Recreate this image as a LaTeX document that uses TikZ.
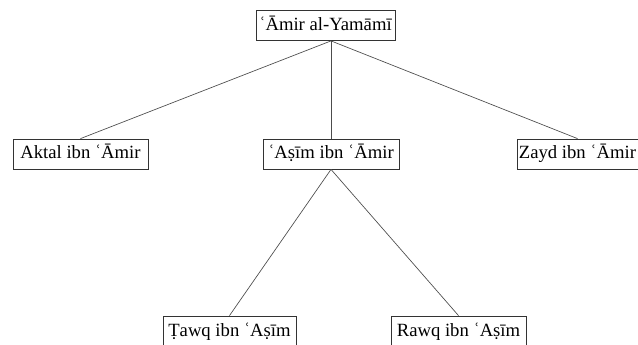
\documentclass[tikz,border=0pt]{standalone}
\usepackage{fontspec}
\setmainfont{Liberation Serif}
\begin{document}
\begin{tikzpicture}[x=0.75pt,y=-0.75pt,
  person/.style={draw=black!80, line width=0.6pt, minimum height=30*0.75pt, inner sep=0pt, font=\fontsize{14pt}{16pt}\selectfont, text height=10pt, text depth=2.5pt},
  link/.style={line width=0.5pt, draw=black!70}]
\clip (0,0) rectangle (638,345);
\useasboundingbox (0,0) rectangle (638,345);
\fill[white] (0,0) rectangle (638,345);
\node[person, minimum width=139*0.75pt] (top) at (325.5,25.5) {ʿĀmir al-Yamāmī};
\node[person, minimum width=135*0.75pt] (aktal) at (80.5,154) {Aktal ibn ʿĀmir};
\node[person, minimum width=136*0.75pt] (asim) at (331,154) {ʿAṣīm ibn ʿĀmir};
\node[person, minimum width=121*0.75pt] (zayd) at (577.5,154) {Zayd ibn ʿĀmir};
\node[person, minimum width=133*0.75pt] (tawq) at (229.5,331) {Ṭawq ibn ʿAṣīm};
\node[person, minimum width=135*0.75pt] (rawq) at (458.5,331) {Rawq ibn ʿAṣīm};
\coordinate (apex) at (asim.north |- top.south);
\draw[link] (apex) -- (aktal.north);
\draw[link] (apex) -- (asim.north);
\draw[link] (apex) -- (zayd.north);
\draw[link] (asim.south) -- (tawq.north);
\draw[link] (asim.south) -- (rawq.north);
\end{tikzpicture}
\end{document}
